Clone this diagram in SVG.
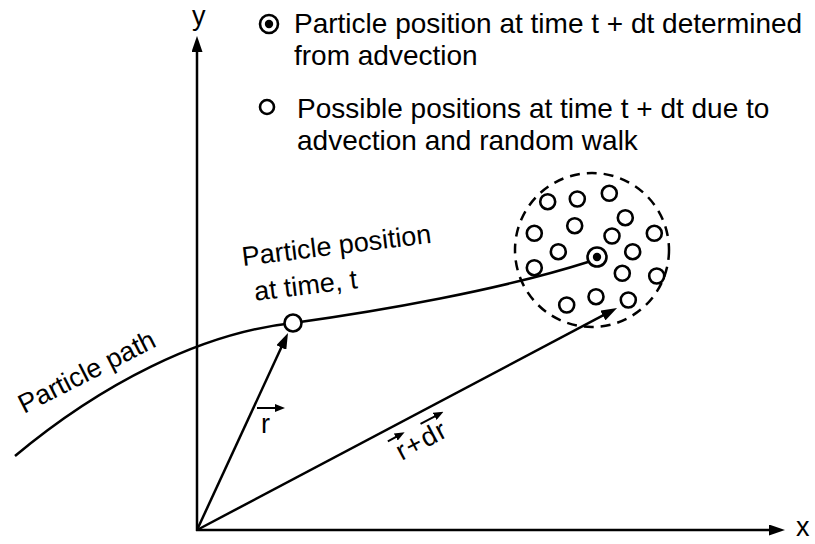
<svg xmlns="http://www.w3.org/2000/svg" width="815" height="544" viewBox="0 0 815 544">
<style>
  text { font-family: "Liberation Sans", Arial, sans-serif; fill: #000; }
  .lbl { font-size: 27px; }
  .leg { font-size: 28px; }
  .ax { font-size: 27px; }
  .line { stroke: #000; stroke-width: 2.5; fill: none; }
  .dot { stroke: #000; stroke-width: 2.6; fill: #fff; }
  .sm { stroke: #000; stroke-width: 2; fill: none; }
</style>
<defs>
  <marker id="ah" markerUnits="userSpaceOnUse" markerWidth="16" markerHeight="11" viewBox="0 0 16 11" refX="6" refY="5.5" orient="auto">
    <path d="M0,0 L16,5.5 L0,11 z" fill="#000"/>
  </marker>
  <marker id="ahs" markerUnits="userSpaceOnUse" markerWidth="10" markerHeight="8" viewBox="0 0 10 8" refX="4" refY="4" orient="auto">
    <path d="M0,0 L10,4 L0,8 z" fill="#000"/>
  </marker>
</defs>
<rect width="815" height="544" fill="#fff"/>

<g id="connectors">
  <line id="y-axis" class="line" x1="197" y1="531" x2="197" y2="46" marker-end="url(#ah)"/>
  <line id="x-axis" class="line" x1="196" y1="530" x2="775" y2="530" marker-end="url(#ah)"/>
  <line id="vec-r" class="line" x1="197" y1="530" x2="283.8" y2="342.1" marker-end="url(#ah)"/>
  <line id="vec-rdr" class="line" x1="197" y1="530" x2="608.2" y2="312.7" marker-end="url(#ah)"/>
  <path id="particle-path" class="line" stroke-width="2.8" d="M15,456 C100,385 200,333 293,323 C380,311 500,290 588,262"/>
</g>

<g id="cloud">
  <circle cx="592" cy="250" r="77" fill="none" stroke="#000" stroke-width="2.5" stroke-dasharray="10 7"/>
  <g class="dot">
    <circle cx="547.7" cy="201.7" r="7.5"/>
    <circle cx="577.3" cy="199" r="7.5"/>
    <circle cx="609.3" cy="193.3" r="7.5"/>
    <circle cx="625.3" cy="217.7" r="7.5"/>
    <circle cx="574.7" cy="225.7" r="7.5"/>
    <circle cx="534.3" cy="233.3" r="7.5"/>
    <circle cx="612" cy="236" r="7.5"/>
    <circle cx="654.3" cy="233.3" r="7.5"/>
    <circle cx="558.3" cy="251.7" r="7.5"/>
    <circle cx="632.7" cy="251.7" r="7.5"/>
    <circle cx="534.3" cy="267.7" r="7.5"/>
    <circle cx="622.3" cy="273.3" r="7.5"/>
    <circle cx="656.7" cy="276" r="7.5"/>
    <circle cx="596" cy="296.7" r="7.5"/>
    <circle cx="628.3" cy="300" r="7.5"/>
    <circle cx="566.7" cy="305" r="7.5"/>
  </g>
</g>

<g id="particle-t">
  <circle class="dot" cx="293" cy="323" r="8.5"/>
</g>

<g id="particle-dt">
  <circle class="dot" cx="597" cy="257" r="9.5"/>
  <circle cx="597" cy="257" r="4.2" fill="#000"/>
</g>

<g id="legend">
  <circle class="dot" cx="269" cy="24" r="9"/>
  <circle cx="269" cy="24" r="4.2" fill="#000"/>
  <text class="leg" x="294" y="33">Particle position at time t + dt determined</text>
  <text class="leg" x="294" y="65">from advection</text>
  <circle class="dot" cx="267" cy="107" r="7"/>
  <text class="leg" x="297" y="118">Possible positions at time t + dt due to</text>
  <text class="leg" x="297" y="150">advection and random walk</text>
</g>

<g id="axis-labels">
  <text class="ax" x="192" y="25">y</text>
  <text class="ax" x="796" y="536">x</text>
</g>

<g id="label-particle-t" transform="translate(243,266) rotate(-7)">
  <text class="lbl" x="0" y="0">Particle position</text>
  <text class="lbl" x="8" y="36">at time, t</text>
</g>

<g id="label-path" transform="translate(24,414) rotate(-27)">
  <text class="lbl" x="0" y="0">Particle path</text>
</g>

<g id="label-r">
  <line class="sm" x1="257" y1="408" x2="279" y2="408" marker-end="url(#ahs)"/>
  <text class="lbl" x="261" y="433">r</text>
</g>

<g id="label-rdr" transform="translate(400,462) rotate(-28)">
  <line class="sm" x1="-1" y1="-24" x2="12" y2="-24" marker-end="url(#ahs)"/>
  <line class="sm" x1="36" y1="-24" x2="56" y2="-24" marker-end="url(#ahs)"/>
  <text class="lbl" x="2" y="0" font-size="29" letter-spacing="1.5">r+dr</text>
</g>
</svg>
